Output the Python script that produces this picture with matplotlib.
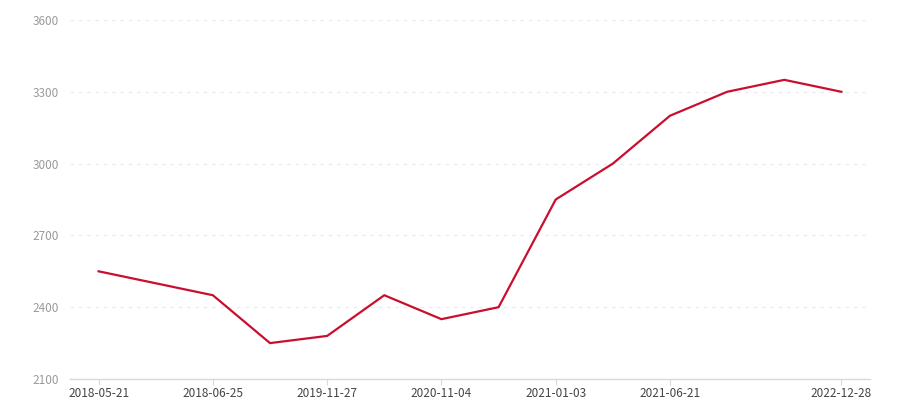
import matplotlib.pyplot as plt
import numpy as np

plt.rcParams['font.family'] = ['Noto Sans CJK SC', 'DejaVu Sans']

# categories (only every other label is visible in the source chart)
dates = ['2018-05-21', '', '2018-06-25', '', '2019-11-27', '', '2020-11-04', '',
         '2021-01-03', '', '2021-06-21', '', '', '2022-12-28']
values = [2550, 2500, 2450, 2250, 2280, 2450, 2350, 2400, 2850, 3000, 3200, 3300, 3350, 3300]
y_ticks = [2100, 2400, 2700, 3000, 3300, 3600]

fig = plt.figure(figsize=(9, 4), dpi=100)
ax = fig.add_axes([70 / 900, 21 / 400, 800 / 900, 359 / 400])

x = np.arange(len(values))
ax.plot(x, values, color='#c8102e', linewidth=1.6, solid_joinstyle='miter')

ax.set_xlim(-0.5, len(values) - 0.5)
ax.set_ylim(2100, 3600)
ax.set_yticks(y_ticks)
ax.set_yticklabels([str(v) for v in y_ticks])

shown = [i for i, d in enumerate(dates) if d]
ax.set_xticks(shown)
ax.set_xticklabels([dates[i] for i in shown])

ax.grid(axis='y', color='#ececec', linestyle=(0, (2.5, 3.5)), linewidth=1)
ax.set_axisbelow(True)
for s in ['top', 'right', 'left']:
    ax.spines[s].set_visible(False)
ax.spines['bottom'].set_color('#d9d9d9')
ax.spines['bottom'].set_linewidth(1)

ax.tick_params(axis='y', length=0, pad=8, labelsize=8.5, labelcolor='#9a9a9a')
ax.tick_params(axis='x', length=4, color='#d9d9d9', pad=1.5, labelsize=8.5, labelcolor='#444444')

fig.savefig('out.png', dpi=100)
